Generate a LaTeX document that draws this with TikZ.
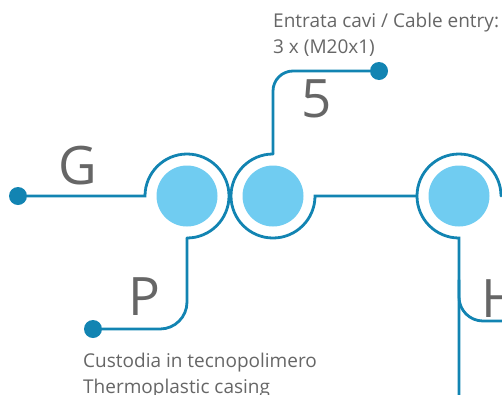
\documentclass[tikz,border=0pt]{standalone}
\usepackage{fontspec}
\setmainfont{Open Sans}
\definecolor{cable}{RGB}{18,132,178}
\definecolor{lensblue}{RGB}{112,204,241}
\definecolor{ink}{RGB}{102,102,102}
\tikzset{
  wire/.style={draw=cable, line width=2.8pt, line cap=round},
  lens/.style={circle, fill=lensblue, minimum size=61pt, inner sep=0pt},
  rim/.style={circle, minimum size=84pt, inner sep=0pt, outer sep=0pt},
  pin/.style={circle, fill=cable, minimum size=18pt, inner sep=0pt},
  letter/.style={text=ink, inner sep=0pt, font=\fontsize{53}{53}\selectfont},
  note/.style={text=ink, inner sep=0pt, align=left, font=\fontsize{19}{25.5}\selectfont}
}
\begin{document}
\begin{tikzpicture}[x=1pt,y=-1pt]
  \useasboundingbox (0,0) rectangle (502,394);
  % ports
  \node[lens] (port1) at (187,196) {};
  \node[rim] (rim1) at (187,196) {};
  \node[lens] (port2) at (273,196) {};
  \node[rim] (rim2) at (273,196) {};
  \node[lens] (port3) at (459,196) {};
  \node[rim] (rim3) at (459,196) {};
  % end dots
  \node[pin] (dotG) at (18,196) {};
  \node[pin] (dotP) at (93,329) {};
  \node[pin] (dot5) at (379,71) {};
  \coordinate (footH) at (459,400);
  \coordinate (forkH) at (459,280);
  \coordinate (endH) at (530,321);
  % wires
  \draw[wire] (dotG) -- (rim1.west) arc[start angle=180, end angle=-90, radius=42pt];
  \draw[wire, rounded corners=27pt] (rim1.south) |- (dotP);
  \draw[wire, rounded corners=20pt] (dot5) -| (rim2.north);
  \draw[wire] (rim2.north) arc[start angle=90, end angle=360, radius=42pt] -- (rim3.west);
  \draw[wire] (rim3.east) arc[start angle=0, end angle=270, radius=42pt] -- (footH);
  \draw[wire, rounded corners=24pt] (forkH) |- (endH);
  % letters
  \node[letter] (labG) at (78,166) {G};
  \node[letter] (labP) at (144,297) {P};
  \node[letter] (lab5) at (317,99) {5};
  \node[letter] (labH) at (501,299) {H};
  % notes
  \node[note, anchor=north west] (entry) at (273,13) {Entrata cavi / Cable entry:\\3 x (M20x1)};
  \node[note, anchor=north west] (casing) at (83,353) {Custodia in tecnopolimero\\Thermoplastic casing};
\end{tikzpicture}
\end{document}
